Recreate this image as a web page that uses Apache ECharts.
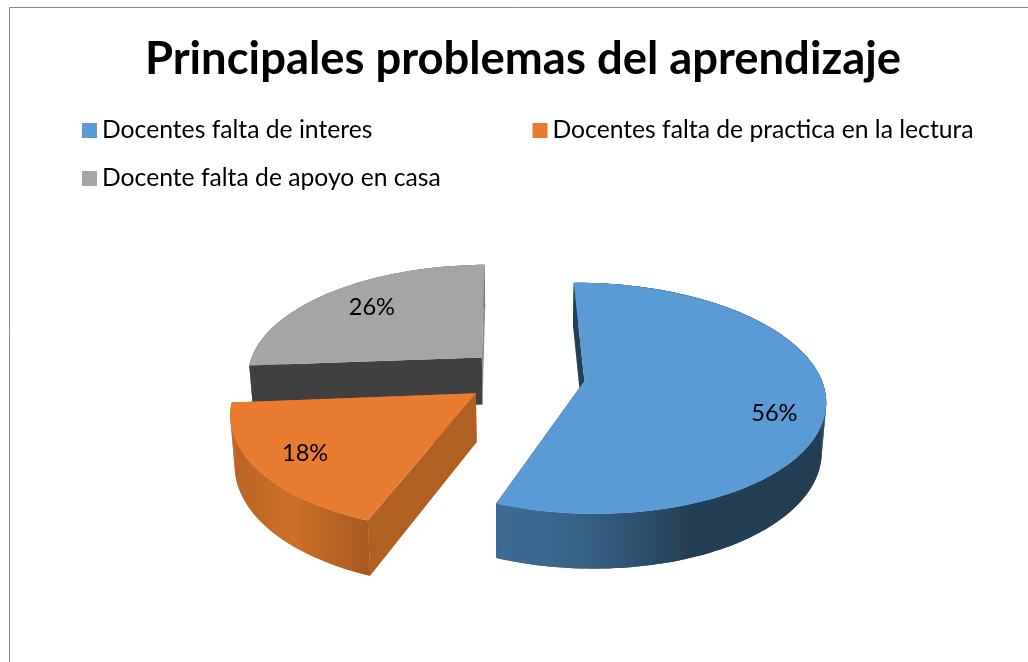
<!DOCTYPE html>
<html>
<head>
<meta charset="utf-8">
<title>Principales problemas del aprendizaje</title>
<style>
  html, body { margin: 0; padding: 0; background: #fff; }
  #chart { width: 1028px; height: 662px; }
</style>
<script src="https://cdn.jsdelivr.net/npm/echarts@6/dist/echarts.min.js"></script>
</head>
<body>
<div id="chart"></div>
<script>
const titleText = "Principales problemas del aprendizaje";
const categories = [
  "Docentes falta de interes",
  "Docentes falta de practica en la lectura",
  "Docente falta de apoyo en casa",
];
const values = [56, 18, 26];

// colores: cara superior, paredes de corte, borde curvo
const topColors = ["#5B9BD5", "#E97C30", "#A5A5A5"];
const startCutColors = ["#223F55", "#B06023", "#404040"];
const endCutColors = ["#223F55", "#B06023", "#8A8A8A"];
const rimStops = [
  [[0, "#3D6B93"], [0.2, "#3A668C"], [0.45, "#2C4F6C"], [0.58, "#243F55"], [1, "#233E54"]],
  [[0, "#B96325"], [0.45, "#CD7029"], [1, "#A65820"]],
  [[0, "#7A7A7A"], [1, "#7A7A7A"]],
];

// pastel 3D: proyeccion en perspectiva
const OX = 525, OY = 376;   // centro del pastel en pantalla
const R = 236, T = 111.5;   // radio horizontal y vertical
const P = 0.149;            // fuerza de la perspectiva
const Q = 0.985, D = 48;    // escala y altura de la cara inferior
const EXPLODE = 0.254;
const START_DEG = -0.8;
const labelRadius = [0.79, 0.8, 0.71];
const labelDy = [17, 0, -3];
const seriesZ = [3, 2, 1];

function project(wx, wy, z) {
  const s = 1 / (1 - P * wy);
  const q = z ? Q : 1;
  return [
    OX + R * wx * s * q,
    OY + T * wy * s * q + (z ? D * s : 0),
  ];
}

function sliceAngles(index) {
  const total = values.reduce((a, b) => a + b, 0);
  let before = 0;
  for (let i = 0; i < index; i++) before += values[i];
  const a0 = START_DEG + (before / total) * 360;
  return [a0, a0 + (values[index] / total) * 360];
}

function renderSlice(params, api) {
  const i = params.seriesIndex;
  const [a0, a1] = sliceAngles(i);
  const mid = ((a0 + a1) / 2) * Math.PI / 180;
  const ex = EXPLODE * Math.sin(mid);
  const ey = -EXPLODE * Math.cos(mid);

  const rimPoint = (deg, z) => {
    const t = deg * Math.PI / 180;
    return project(ex + Math.sin(t), ey - Math.cos(t), z);
  };
  const arc = (z) => {
    const pts = [];
    const n = Math.ceil((a1 - a0) / 1.5);
    for (let k = 0; k <= n; k++) pts.push(rimPoint(a0 + ((a1 - a0) * k) / n, z));
    return pts;
  };
  const apexTop = project(ex, ey, false);
  const apexBottom = project(ex, ey, true);
  const topArc = arc(false);
  const bottomArc = arc(true);

  const poly = (points, fill, z2) => ({
    type: "polygon",
    shape: { points },
    style: { fill, stroke: null },
    z2,
  });

  // banda base y tiras encima, asi la silueta queda sin muescas ni costuras
  const rimXs = topArc.concat(bottomArc).map((p) => p[0]);
  const rimFill = new echarts.graphic.LinearGradient(
    Math.min(...rimXs), 0, Math.max(...rimXs), 0,
    rimStops[i].map((s) => ({ offset: s[0], color: s[1] })),
    true
  );
  const rimStrips = [];
  for (let k = 0; k < topArc.length - 1; k++) {
    rimStrips.push(poly([topArc[k], topArc[k + 1], bottomArc[k + 1], bottomArc[k]], rimFill, 2));
  }

  const lr = labelRadius[i];
  const labelPos = project(ex + lr * Math.sin(mid), ey - lr * Math.cos(mid), false);

  return {
    type: "group",
    children: [
      poly([apexTop, topArc[topArc.length - 1], bottomArc[bottomArc.length - 1], apexBottom], endCutColors[i], 1),
      poly(topArc.concat(bottomArc.slice().reverse()), rimFill, 2),
      ...rimStrips,
      poly([apexTop, topArc[0], bottomArc[0], apexBottom], startCutColors[i], 3),
      poly([apexTop].concat(topArc), topColors[i], 4),
      {
        type: "text",
        z2: 5,
        style: {
          text: api.value(0) + "%",
          x: labelPos[0],
          y: labelPos[1] + labelDy[i],
          align: "center",
          verticalAlign: "middle",
          fontFamily: "Lato",
          fontSize: 23.6,
          fill: "#000",
        },
      },
    ],
  };
}

const myChart = echarts.init(document.getElementById("chart"));
const legendText = { fontFamily: "Lato", fontSize: 24.7, color: "#000" };

myChart.setOption({
  animation: false,
  backgroundColor: "#fff",
  title: {
    text: titleText,
    left: 518,
    top: 32,
    textAlign: "center",
    textStyle: { fontFamily: "Lato", fontWeight: "bold", fontSize: 45.4, color: "#000" },
  },
  legend: [
    {
      data: [categories[0], categories[1]],
      left: 82,
      top: 118,
      padding: 0,
      icon: "rect",
      itemWidth: 15,
      itemHeight: 15,
      itemGap: 160,
      textStyle: legendText,
    },
    {
      data: [categories[2]],
      left: 82,
      top: 166,
      padding: 0,
      icon: "rect",
      itemWidth: 15,
      itemHeight: 15,
      textStyle: legendText,
    },
  ],
  graphic: [
    {
      type: "polyline",
      shape: { points: [[9.5, 662], [9.5, 7.5], [1028, 7.5]] },
      style: { stroke: "#8A8A8A", fill: null, lineWidth: 1 },
      silent: true,
    },
  ],
  series: categories.map((name, i) => ({
    type: "custom",
    name,
    coordinateSystem: "none",
    z: seriesZ[i],
    itemStyle: { color: topColors[i] },
    data: [values[i]],
    renderItem: renderSlice,
  })),
});
</script>
</body>
</html>
